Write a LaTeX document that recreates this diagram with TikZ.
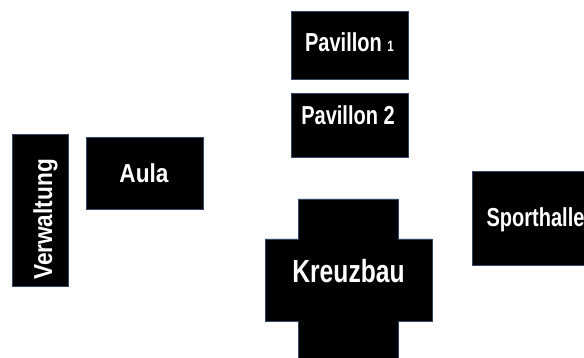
\documentclass[tikz,border=0pt]{standalone}
\usepackage{fontspec}
\setmainfont{Liberation Sans}
\newfontfamily\narrowfont[FakeStretch=0.77]{Liberation Sans}
\newfontfamily\sidefont[FakeStretch=0.87]{Liberation Sans}
\usetikzlibrary{positioning}
\definecolor{edge}{RGB}{52,68,100}

\begin{document}
\begin{tikzpicture}[x=1pt, y=-1pt, font=\narrowfont\bfseries\fontsize{26}{30}\selectfont]
    % Styles
    \tikzstyle{house} = [draw=edge, fill=black, line width=0.9pt, rectangle, inner sep=0pt]
    \tikzstyle{tag} = [text=white, inner sep=0pt, anchor=base]

    % Sheet (fixes the margins, cuts off what runs over the edge)
    \clip (0,0) rectangle (584,358);
    \fill[white] (0,0) rectangle (584,358);

    % Nodes
    \node (pav1) [house, minimum width=117pt, minimum height=68pt] at (349.5,45) {};
    \node (pav2) [house, minimum width=117pt, minimum height=64pt, below=14pt of pav1] {};
    \node (aula) [house, minimum width=117pt, minimum height=72pt] at (144.5,173) {};
    \node (verw) [house, minimum width=56pt, minimum height=152pt] at (40,210) {};
    \node (sport) [house, minimum width=128pt, minimum height=94pt] at (536,218) {};

    % Kreuzbau (cross shape, runs off the bottom edge)
    \draw [draw=edge, fill=black, line width=0.9pt] (298,199) -- (398,199) -- (398,239) -- (432,239)
        -- (432,321) -- (398,321) -- (398,370) -- (298,370) -- (298,321) -- (265,321)
        -- (265,239) -- (298,239) -- cycle;
    \coordinate (kreuz) at (348.5,283);

    % Labels
    \node (pav1txt) [tag] at (349.5,52) {Pavillon {\fontsize{15}{18}\selectfont 1}};
    \node (pav2txt) [tag] at (348,124.5) {Pavillon 2};
    \node (aulatxt) [tag, font=\sidefont\bfseries\fontsize{26}{30}\selectfont] at (144,183) {Aula};
    \node (sporttxt) [tag] at (535.5,227) {Sporthalle};
    \node (kreuztxt) [tag, font=\narrowfont\bfseries\fontsize{32}{36}\selectfont] at (kreuz) {Kreuzbau};
    \node (verwtxt) [tag, rotate=90, font=\sidefont\bfseries\fontsize{26}{30}\selectfont] at (52,219.5) {Verwaltung};

\end{tikzpicture}
\end{document}
